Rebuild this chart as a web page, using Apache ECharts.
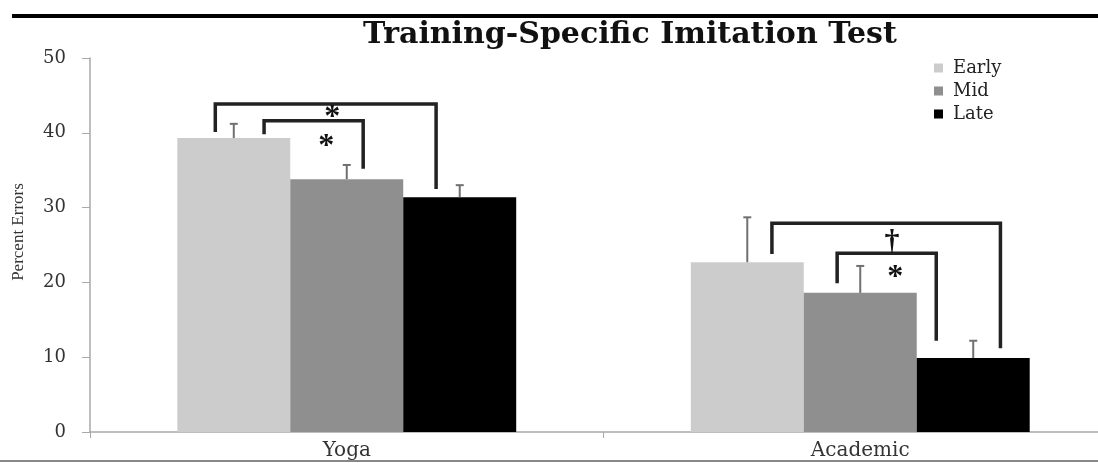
<!DOCTYPE html>
<html>
<head>
<meta charset="utf-8">
<script src="https://cdn.jsdelivr.net/npm/echarts@6/dist/echarts.min.js"></script>
<style>
  html, body { margin: 0; padding: 0; background: #fff; }
  #chart { width: 1098px; height: 463px; }
</style>
</head>
<body>
<div id="chart"></div>
<script>
// groups and series values (percent errors)
const categories = ['Yoga', 'Academic']
const seriesNames = ['Early', 'Mid', 'Late']
const earlyValues = [39.3, 22.7]
const midValues = [33.8, 18.6]
const lateValues = [31.4, 9.9]
// upper error bar lengths
const earlyErr = [1.9, 6.0]
const midErr = [1.9, 3.6]
const lateErr = [1.6, 2.3]
const yTicks = [0, 10, 20, 30, 40, 50]

// significance brackets: category, x offsets (fraction of band from center), heights in data units
const bracketCat = [0, 0, 1, 1]
const bracketLeftX = [-0.256, -0.161, -0.172, -0.045]
const bracketRightX = [0.174, 0.032, 0.273, 0.148]
const bracketTop = [43.85, 41.6, 27.9, 23.9]
const bracketLeftFoot = [40.1, 39.8, 23.8, 19.9]
const bracketRightFoot = [32.5, 35.2, 11.2, 12.2]
// significance marks
const markCat = [0, 0, 1, 1]
const markX = [-0.028, -0.04, 0.062, 0.068]
const markY = [42.75, 39.0, 25.4, 21.4]
const markText = ['*', '*', '†', '*']

const colors = ['#cccccc', '#8f8f8f', '#000000']
const serif = '"DejaVu Serif", serif'
const timesLike = '"Liberation Serif", serif'
const barCategoryGap = 0.34

const chart = echarts.init(document.getElementById('chart'))

const allValues = [earlyValues, midValues, lateValues]
const allErr = [earlyErr, midErr, lateErr]

const errData = []
allValues.forEach((vals, s) => {
  vals.forEach((v, c) => {
    errData.push([c, v, v + allErr[s][c], s])
  })
})

const bracketData = bracketCat.map((c, i) => [c, bracketLeftX[i], bracketRightX[i], bracketTop[i], bracketLeftFoot[i], bracketRightFoot[i]])
const markData = markCat.map((c, i) => [c, markX[i], markY[i], markText[i]])

const option = {
  animation: false,
  title: {
    text: 'Training-Specific Imitation Test',
    left: 358,
    top: 15,
    textStyle: { fontFamily: serif, fontWeight: 'bold', fontSize: 30, color: '#111' },
  },
  legend: {
    data: seriesNames,
    orient: 'vertical',
    left: 929,
    top: 54,
    icon: 'rect',
    itemWidth: 9,
    itemHeight: 9,
    itemGap: 5,
    textStyle: { fontFamily: serif, fontSize: 18, color: '#222', padding: [0, 0, 0, 5] },
  },
  graphic: [
    { type: 'rect', shape: { x: 12, y: 14, width: 1086, height: 4 }, style: { fill: '#000' } },
    { type: 'rect', shape: { x: 0, y: 460, width: 1098, height: 2 }, style: { fill: '#888' } },
  ],
  grid: { left: 90, right: -19, top: 58, bottom: 31, outerBoundsMode: 'none', containLabel: false },
  xAxis: {
    type: 'category',
    data: categories,
    axisLine: { lineStyle: { color: '#a8a8a8', width: 1.5 } },
    axisTick: { show: true, length: 6, lineStyle: { color: '#a8a8a8' } },
    axisLabel: { fontFamily: serif, fontSize: 20, color: '#333', margin: 9 },
  },
  yAxis: {
    type: 'value',
    min: yTicks[0],
    max: yTicks[yTicks.length - 1],
    interval: 10,
    name: 'Percent Errors',
    nameLocation: 'middle',
    nameRotate: 90,
    nameGap: 63,
    nameTextStyle: { fontFamily: timesLike, fontSize: 17, color: '#333', padding: [0, 0, 0, 26] },
    axisLine: { show: true, lineStyle: { color: '#a8a8a8', width: 1.5 } },
    axisTick: { show: true, length: 8, lineStyle: { color: '#a8a8a8' } },
    axisLabel: { fontFamily: serif, fontSize: 18, color: '#333', margin: 24 },
    splitLine: { show: false },
  },
  series: [
    ...seriesNames.map((name, s) => ({
      name,
      type: 'bar',
      data: allValues[s],
      barGap: '0%',
      barCategoryGap: barCategoryGap * 100 + '%',
      itemStyle: { color: colors[s] },
    })),
    {
      type: 'custom',
      name: 'err',
      data: errData,
      z: 3,
      renderItem: (params, api) => {
        const band = api.size([1, 0])[0]
        const bw = band * (1 - barCategoryGap) / 3
        const s = api.value(3)
        const base = api.coord([api.value(0), api.value(1)])
        const top = api.coord([api.value(0), api.value(2)])
        const x = base[0] + (s - 1) * bw
        const style = { stroke: '#707070', lineWidth: 2 }
        return {
          type: 'group',
          children: [
            { type: 'line', shape: { x1: x, y1: base[1], x2: x, y2: top[1] }, style },
            { type: 'line', shape: { x1: x - 4, y1: top[1], x2: x + 4, y2: top[1] }, style },
          ],
        }
      },
    },
    {
      type: 'custom',
      name: 'brackets',
      data: bracketData,
      z: 4,
      renderItem: (params, api) => {
        const band = api.size([1, 0])[0]
        const c = api.coord([api.value(0), 0])[0]
        const xl = c + api.value(1) * band
        const xr = c + api.value(2) * band
        const yt = api.coord([0, api.value(3)])[1]
        const yl = api.coord([0, api.value(4)])[1]
        const yr = api.coord([0, api.value(5)])[1]
        return {
          type: 'polyline',
          shape: { points: [[xl, yl], [xl, yt], [xr, yt], [xr, yr]] },
          style: { stroke: '#222', lineWidth: 3.5, fill: null },
        }
      },
    },
    {
      type: 'custom',
      name: 'marks',
      data: markData,
      z: 5,
      renderItem: (params, api) => {
        const band = api.size([1, 0])[0]
        const c = api.coord([api.value(0), 0])[0]
        const y = api.coord([0, api.value(2)])[1]
        const txt = markData[params.dataIndex][3]
        return {
          type: 'text',
          x: c + api.value(1) * band,
          y: y + (txt === '*' ? 6 : 0),
          style: {
            text: txt,
            fontFamily: timesLike,
            fontWeight: 'bold',
            fontSize: txt === '*' ? 32 : 30,
            fill: '#111',
            align: 'center',
            verticalAlign: 'middle',
          },
        }
      },
    },
  ],
}

chart.setOption(option)
</script>
</body>
</html>
